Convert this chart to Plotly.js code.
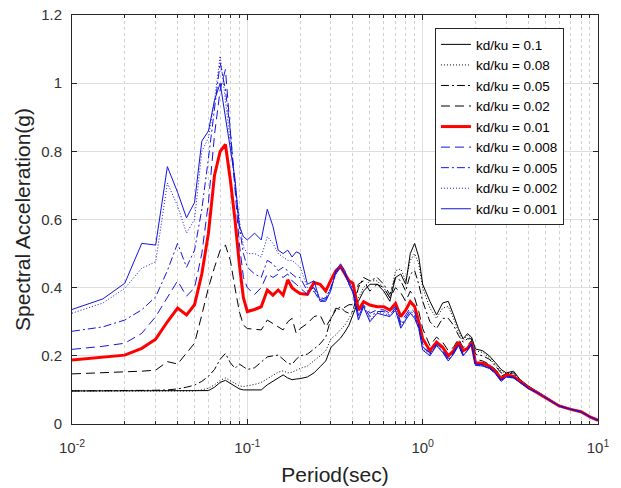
<!DOCTYPE html>
<html>
<head>
<meta charset="utf-8">
<script src="https://cdn.plot.ly/plotly-3.0.1.min.js"></script>
<style>html,body{margin:0;padding:0;background:#fff;}#chart{width:621px;height:488px;}</style>
</head>
<body>
<div id="chart"></div>
<script>
// Period grid (sec)
const period = [0.01,0.015,0.02,0.025,0.03,0.035,0.04,0.045,0.05,0.055,0.06,0.065,0.07,0.075,0.08,0.085,0.09,0.095,
  0.1,0.11,0.12,0.13,0.14,0.15,0.16,0.17,0.18,0.19,0.2,0.22,0.24,0.26,0.28,0.3,0.32,0.34,0.36,0.38,
  0.4,0.43,0.46,0.5,0.55,0.6,0.65,0.7,0.75,0.8,0.85,0.9,0.95,
  1.0,1.1,1.2,1.3,1.4,1.5,1.6,1.7,1.8,1.9,2.0,2.2,2.4,2.6,2.8,3.0,3.3,3.6,4.0,4.5,5,5.5,6,7,8,9,10];

// Spectral acceleration (g) for each kd/ku ratio
const sa_0_1 = [0.097,0.097,0.097,0.097,0.097,0.097,0.097,0.097,0.097,0.097,0.098,0.108,0.122,0.128,0.12,0.11,0.103,0.1,
  0.1,0.1,0.1,0.115,0.125,0.135,0.144,0.135,0.13,0.132,0.133,0.138,0.15,0.168,0.185,0.225,0.24,0.252,0.27,0.29,
  0.32,0.36,0.39,0.41,0.41,0.39,0.36,0.43,0.44,0.41,0.5,0.53,0.49,
  0.41,0.36,0.32,0.355,0.36,0.32,0.28,0.25,0.265,0.255,0.22,0.215,0.2,0.18,0.16,0.15,0.155,0.13,0.112,0.095,0.08,0.067,0.055,0.044,0.037,0.022,0.012];
const sa_0_08 = [0.097,0.097,0.097,0.097,0.097,0.097,0.097,0.097,0.097,0.1,0.105,0.115,0.128,0.135,0.127,0.118,0.112,0.11,
  0.112,0.116,0.122,0.133,0.145,0.152,0.156,0.15,0.152,0.158,0.163,0.17,0.185,0.2,0.215,0.25,0.262,0.275,0.29,0.31,
  0.33,0.37,0.4,0.42,0.42,0.4,0.37,0.45,0.455,0.42,0.48,0.5,0.47,
  0.4,0.34,0.31,0.34,0.345,0.31,0.27,0.245,0.26,0.25,0.215,0.21,0.195,0.175,0.155,0.147,0.152,0.128,0.11,0.094,0.079,0.066,0.054,0.044,0.036,0.022,0.012];
const sa_0_05 = [0.097,0.097,0.097,0.098,0.099,0.1,0.103,0.108,0.114,0.125,0.14,0.16,0.19,0.207,0.18,0.163,0.176,0.168,
  0.16,0.165,0.182,0.197,0.2,0.202,0.19,0.178,0.175,0.19,0.2,0.205,0.22,0.235,0.255,0.31,0.335,0.344,0.33,0.325,
  0.33,0.4,0.43,0.42,0.43,0.41,0.38,0.43,0.42,0.39,0.44,0.45,0.41,
  0.36,0.3,0.28,0.31,0.31,0.29,0.26,0.24,0.25,0.25,0.205,0.2,0.19,0.17,0.15,0.146,0.15,0.127,0.109,0.093,0.079,0.066,0.054,0.043,0.036,0.022,0.012];
const sa_0_02 = [0.147,0.15,0.153,0.155,0.158,0.183,0.176,0.207,0.237,0.32,0.4,0.46,0.51,0.525,0.48,0.4,0.33,0.29,
  0.28,0.278,0.276,0.305,0.295,0.285,0.276,0.3,0.31,0.266,0.28,0.295,0.315,0.32,0.285,0.31,0.34,0.335,0.344,0.35,
  0.35,0.41,0.42,0.39,0.41,0.4,0.37,0.4,0.385,0.36,0.39,0.37,0.33,
  0.28,0.23,0.255,0.24,0.215,0.225,0.25,0.225,0.23,0.245,0.19,0.185,0.175,0.16,0.14,0.148,0.142,0.126,0.108,0.093,0.078,0.065,0.053,0.043,0.036,0.021,0.011];
const sa_0_01 = [0.188,0.195,0.202,0.222,0.249,0.3,0.34,0.32,0.35,0.44,0.56,0.73,0.8,0.82,0.716,0.6,0.47,0.37,
  0.33,0.336,0.344,0.393,0.378,0.393,0.378,0.423,0.4,0.39,0.383,0.38,0.415,0.41,0.39,0.423,0.45,0.462,0.44,0.42,
  0.413,0.334,0.359,0.349,0.344,0.344,0.334,0.354,0.315,0.334,0.359,0.345,0.3,
  0.25,0.215,0.24,0.225,0.2,0.215,0.24,0.215,0.222,0.238,0.18,0.178,0.17,0.155,0.133,0.145,0.14,0.125,0.107,0.092,0.078,0.065,0.053,0.043,0.036,0.021,0.011];
const sa_0_008 = [0.219,0.228,0.237,0.266,0.315,0.37,0.42,0.375,0.4,0.5,0.65,0.85,0.98,1.04,0.85,0.68,0.53,0.43,
  0.4,0.38,0.4,0.44,0.43,0.44,0.43,0.44,0.42,0.41,0.4,0.38,0.39,0.36,0.365,0.4,0.445,0.46,0.44,0.415,
  0.395,0.32,0.35,0.325,0.335,0.335,0.325,0.345,0.298,0.32,0.34,0.328,0.29,
  0.235,0.207,0.235,0.217,0.192,0.21,0.235,0.207,0.218,0.236,0.176,0.174,0.166,0.151,0.129,0.141,0.137,0.122,0.106,0.092,0.078,0.065,0.053,0.043,0.036,0.021,0.011];
const sa_0_005 = [0.272,0.285,0.305,0.335,0.373,0.45,0.53,0.46,0.51,0.63,0.78,0.93,1.06,0.98,0.86,0.7,0.58,0.5,
  0.46,0.44,0.43,0.48,0.47,0.45,0.46,0.45,0.44,0.43,0.43,0.39,0.4,0.365,0.37,0.4,0.44,0.46,0.44,0.41,
  0.39,0.315,0.348,0.315,0.33,0.33,0.32,0.34,0.29,0.312,0.333,0.318,0.285,
  0.228,0.204,0.232,0.213,0.188,0.207,0.232,0.203,0.216,0.235,0.174,0.172,0.164,0.149,0.127,0.139,0.136,0.121,0.105,0.092,0.078,0.065,0.053,0.043,0.036,0.021,0.011];
const sa_0_002 = [0.325,0.355,0.398,0.457,0.476,0.707,0.64,0.56,0.6,0.8,0.84,0.95,1.08,0.95,0.82,0.72,0.6,0.52,
  0.5,0.5,0.49,0.55,0.53,0.5,0.49,0.48,0.48,0.47,0.46,0.4,0.4,0.37,0.37,0.4,0.44,0.46,0.44,0.41,
  0.39,0.31,0.346,0.305,0.327,0.325,0.318,0.337,0.285,0.308,0.328,0.314,0.282,
  0.222,0.202,0.231,0.211,0.186,0.206,0.231,0.201,0.215,0.235,0.173,0.171,0.163,0.148,0.126,0.138,0.135,0.12,0.104,0.092,0.078,0.065,0.053,0.043,0.036,0.021,0.011];
const sa_0_001 = [0.336,0.367,0.413,0.53,0.525,0.755,0.68,0.605,0.65,0.83,0.86,0.95,1.0,0.9,0.8,0.72,0.58,0.55,
  0.54,0.56,0.54,0.63,0.58,0.51,0.5,0.51,0.49,0.505,0.5,0.41,0.42,0.36,0.36,0.393,0.45,0.47,0.45,0.41,
  0.385,0.305,0.344,0.3,0.325,0.32,0.315,0.334,0.281,0.305,0.325,0.31,0.28,
  0.217,0.2,0.23,0.21,0.185,0.205,0.23,0.2,0.215,0.235,0.172,0.17,0.163,0.148,0.125,0.138,0.135,0.12,0.104,0.092,0.078,0.065,0.053,0.043,0.036,0.021,0.011];

const seriesNames = ['kd/ku = 0.1','kd/ku = 0.08','kd/ku = 0.05','kd/ku = 0.02','kd/ku = 0.01','kd/ku = 0.008','kd/ku = 0.005','kd/ku = 0.002','kd/ku = 0.001'];
const seriesData = [sa_0_1, sa_0_08, sa_0_05, sa_0_02, sa_0_01, sa_0_008, sa_0_005, sa_0_002, sa_0_001];

const BLK = '#000000', BLU = '#1414e0', RED = '#ff0000';
const styles = [
  {color: BLK, width: 1, dash: 'solid'},
  {color: BLK, width: 1, dash: '1px,2px'},
  {color: BLK, width: 1, dash: '8px,3px,2px,3px'},
  {color: BLK, width: 1, dash: '9px,5px'},
  {color: RED, width: 3, dash: 'solid'},
  {color: BLU, width: 1, dash: '9px,5px'},
  {color: BLU, width: 1, dash: '8px,3px,2px,3px'},
  {color: BLU, width: 1, dash: '1px,2px'},
  {color: BLU, width: 1, dash: 'solid'}
];

const traces = seriesData.map((y, i) => ({
  x: period, y: y, type: 'scatter', mode: 'lines', name: seriesNames[i],
  line: styles[i], hoverinfo: 'skip'
}));

const minorVals = [];
[0.01, 0.1, 1].forEach(d => { for (let k = 2; k <= 9; k++) minorVals.push(d * k); });

const AX = '#262626';
const FONT = 'Liberation Sans, Arial, Helvetica, sans-serif';

const layout = {
  width: 621, height: 488,
  margin: {l: 72, r: 23, t: 15, b: 64},
  paper_bgcolor: '#fff', plot_bgcolor: '#fff',
  font: {family: FONT, color: '#333', size: 15},
  showlegend: true,
  legend: {
    x: 0.690, y: 0.968, xanchor: 'left', yanchor: 'top',
    bgcolor: '#fff', bordercolor: AX, borderwidth: 1,
    font: {family: FONT, size: 13.5, color: '#000'},
    tracegroupgap: 0
  },
  xaxis: {
    type: 'log', range: [-2, 1],
    tickmode: 'array', tickvals: [0.01, 0.1, 1, 10],
    ticktext: ['10<sup>-2</sup>', '10<sup>-1</sup>', '10<sup>0</sup>', '10<sup>1</sup>'],
    ticks: 'inside', ticklen: 5, tickcolor: AX, tickwidth: 1,
    ticklabelstandoff: 10,
    showline: true, linecolor: AX, linewidth: 1, mirror: 'ticks',
    showgrid: true, gridcolor: '#dedede', gridwidth: 1,
    zeroline: false,
    minor: {tickvals: minorVals, ticks: 'inside', ticklen: 3, tickcolor: AX,
            showgrid: true, gridcolor: '#d0d0d0', griddash: 'dot', gridwidth: 1},
    tickfont: {size: 15, color: '#333'},
    title: {text: 'Period(sec)', font: {size: 21, color: '#222'}, standoff: 12}
  },
  yaxis: {
    range: [0, 1.2], tick0: 0, dtick: 0.2,
    ticks: 'inside', ticklen: 5, tickcolor: AX, tickwidth: 1,
    ticklabelstandoff: 6,
    showline: true, linecolor: AX, linewidth: 1, mirror: 'ticks',
    showgrid: true, gridcolor: '#dedede', gridwidth: 1,
    zeroline: false,
    tickfont: {size: 15, color: '#333'},
    title: {text: 'Spectral Acceleration(g)', font: {size: 21, color: '#222'}, standoff: 4}
  }
};

Plotly.newPlot('chart', traces, layout, {staticPlot: true, displayModeBar: false});
</script>
</body>
</html>
